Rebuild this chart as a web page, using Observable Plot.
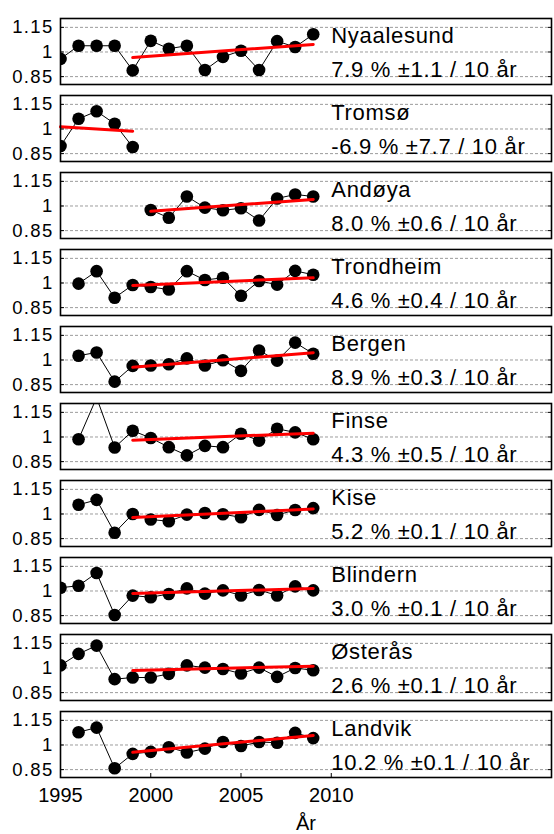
<!DOCTYPE html>
<html>
<head>
<meta charset="utf-8">
<script src="https://cdn.jsdelivr.net/npm/d3@7"></script>
<script src="https://cdn.jsdelivr.net/npm/@observablehq/plot@0.6"></script>
<style>
  body { margin: 0; background: #fff; }
  #chart svg { display: block; font-family: "Liberation Sans", Arial, sans-serif; }
  #chart g[aria-label="y-axis tick label"] text { letter-spacing: 1.3px; }
  #chart g[aria-label="text"] text { letter-spacing: 0.7px; }
</style>
</head>
<body>
<div id="chart"></div>
<script>
// Annual values relative to the station mean, 1995–2009
const years = [1995, 1996, 1997, 1998, 1999, 2000, 2001, 2002, 2003, 2004, 2005, 2006, 2007, 2008, 2009];

const stations = ["Nyaalesund", "Tromsø", "Andøya", "Trondheim", "Bergen", "Finse", "Kise", "Blindern", "Østerås", "Landvik"];

const nyaalesund = [0.958, 1.038, 1.038, 1.038, 0.888, 1.068, 1.020, 1.038, 0.890, 0.970, 1.008, 0.890, 1.066, 1.030, 1.108];
const tromso     = [0.896, 1.062, 1.108, 1.032, 0.890, null, null, null, null, null, null, null, null, null, null];
const andoya     = [null, null, null, null, null, 0.976, 0.928, 1.058, 0.990, 0.974, 0.986, 0.912, 1.046, 1.070, 1.058];
const trondheim  = [null, 0.996, 1.072, 0.910, 0.988, 0.976, 0.960, 1.072, 1.018, 1.032, 0.922, 1.012, 0.990, 1.074, 1.050];
const bergen     = [null, 1.026, 1.046, 0.868, 0.964, 0.966, 0.974, 1.010, 0.966, 0.998, 0.934, 1.058, 0.996, 1.106, 1.038];
const finse      = [null, 0.986, 1.240, 0.936, 1.038, 0.994, 0.938, 0.888, 0.946, 0.938, 1.020, 0.978, 1.050, 1.028, 0.986];
const kise       = [null, 1.056, 1.086, 0.886, 1.000, 0.966, 0.956, 0.996, 1.006, 0.998, 0.980, 1.025, 0.994, 1.024, 1.036];
const blindern   = [1.020, 1.032, 1.110, 0.854, 0.972, 0.962, 0.982, 1.016, 0.984, 1.004, 0.973, 1.006, 0.973, 1.028, 1.004];
const osteras    = [1.016, 1.086, 1.136, 0.932, 0.942, 0.942, 0.964, 1.016, 1.002, 0.994, 0.966, 1.002, 0.946, 1.000, 0.986];
const landvik    = [null, 1.078, 1.106, 0.858, 0.946, 0.958, 0.986, 0.954, 0.978, 1.018, 0.994, 1.018, 1.014, 1.074, 1.042];

const series = [nyaalesund, tromso, andoya, trondheim, bergen, finse, kise, blindern, osteras, landvik];

// Linear trend: % per 10 years, its uncertainty, fitted period and level at the period's midpoint
const trendRate  = [7.9, -6.9, 8.0, 4.6, 8.9, 4.3, 5.2, 3.0, 2.6, 10.2];
const trendError = [1.1, 7.7, 0.6, 0.4, 0.3, 0.5, 0.1, 0.1, 0.1, 0.1];
const trendFrom  = [1999, 1995, 2000, 1999, 1999, 1999, 1999, 1999, 1999, 1999];
const trendTo    = [2009, 1999, 2009, 2009, 2009, 2009, 2009, 2009, 2009, 2009];
const trendLevel = [1.006, 1.000, 1.004, 1.008, 1.000, 1.002, 1.004, 1.000, 0.998, 1.007];

const yTicks = [0.85, 1, 1.15];
const xTicks = [1995, 2000, 2005, 2010];

// Long-format tables for the faceted plot
const obs = stations.flatMap((station, i) =>
  years.map((year, j) => ({station, year, value: series[i][j]})).filter(d => d.value != null)
);

const trend = stations.flatMap((station, i) => {
  const mid = (trendFrom[i] + trendTo[i]) / 2;
  return [trendFrom[i], trendTo[i]].map(year => ({
    station,
    year,
    value: trendLevel[i] * (1 + trendRate[i] / 100 * (year - mid) / 10)
  }));
});

const names = stations.map(station => ({station, text: station}));
const rates = stations.map((station, i) => ({
  station,
  text: `${trendRate[i].toFixed(1)} % ±${trendError[i].toFixed(1)} / 10 år`
}));

const chart = Plot.plot({
  width: 554,
  height: 834,
  marginTop: 15,
  marginBottom: 53,
  marginLeft: 60,
  marginRight: 3,
  style: {background: "#fff", color: "#000", fontFamily: "'Liberation Sans', Arial, sans-serif"},
  x: {domain: [1995, 2022.2], label: null},
  y: {domain: [0.802, 1.204], label: null},
  fy: {domain: stations, paddingInner: 0.138, paddingOuter: 0, axis: null, label: null},
  marks: [
    Plot.ruleY(yTicks, {stroke: "#9c9c9c", strokeWidth: 1, strokeDasharray: "3,2"}),
    Plot.line(obs, {x: "year", y: "value", fy: "station", stroke: "#000", strokeWidth: 1, clip: true}),
    Plot.dot(obs, {x: "year", y: "value", fy: "station", r: 6.3, fill: "#000", stroke: "none", clip: true}),
    Plot.line(trend, {x: "year", y: "value", fy: "station", stroke: "#ff0000", strokeWidth: 3}),
    Plot.text(names, {x: 2010, y: 1.1, fy: "station", text: "text", textAnchor: "start", fontSize: 22, fill: "#000"}),
    Plot.text(rates, {x: 2010, y: 0.892, fy: "station", text: "text", textAnchor: "start", fontSize: 22, fill: "#000"}),
    Plot.axisY(yTicks, {anchor: "left", tickSize: -4, tickPadding: 11, fontSize: 18.5, tickFormat: d => String(d)}),
    Plot.axisY(yTicks, {anchor: "right", tickSize: -4, tickFormat: () => ""}),
    Plot.axisX(xTicks, {
      anchor: "bottom", tickSize: -4, tickPadding: 14, fontSize: 20, tickFormat: "d",
      label: "År", labelArrow: "none", labelAnchor: "center", labelOffset: 52
    }),
    Plot.frame({stroke: "#000", strokeWidth: 1.6})
  ]
});

document.getElementById("chart").appendChild(chart);
</script>
</body>
</html>
